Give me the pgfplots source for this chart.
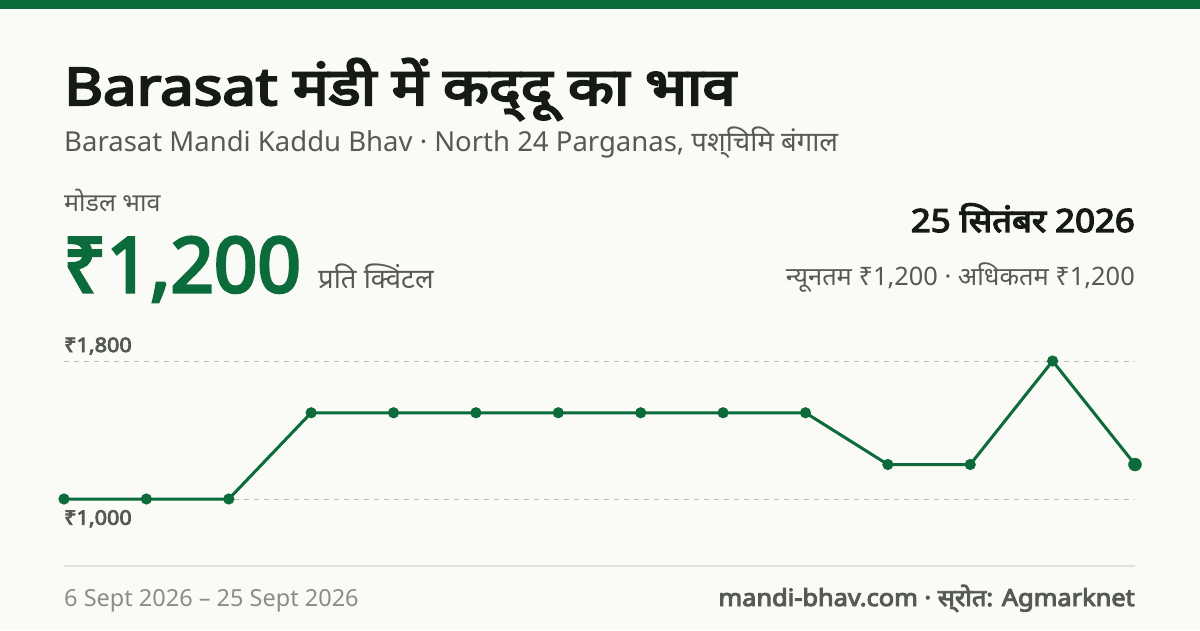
\documentclass[border=0pt]{standalone}
\usepackage{pgfplots}
\pgfplotsset{compat=1.18}
\usepackage{fontspec}
\setmainfont{Noto Sans}[Script=Devanagari, AutoFakeBold=4]
\definecolor{bg}{HTML}{FAFAF6}
\definecolor{brand}{HTML}{0B6B3A}
\definecolor{ink}{HTML}{161A16}
\definecolor{sub}{HTML}{555A55}
\definecolor{muted}{HTML}{8A8D88}
\definecolor{gridc}{HTML}{BDBDB8}
\definecolor{rule}{HTML}{E2E2DC}
\newcommand{\fs}[1]{\fontsize{#1}{#1}\selectfont}

\begin{document}
\begin{tikzpicture}[x=1pt,y=1pt]
% page background and top bar
\fill[bg] (0,0) rectangle (1200,630);
\fill[brand] (0,621) rectangle (1200,630);

% header texts
\node[anchor=base west,inner sep=0,text=ink] at (64,525) {\scalebox{1.15}[1]{\fs{52}\bfseries Barasat मंडी में कद्‌दू का भाव}};
\node[anchor=base west,inner sep=0,text=sub] at (64,478) {\fs{27.5}Barasat Mandi Kaddu Bhav · North 24 Parganas, पश्‌चिमि बंगाल};
\node[anchor=base west,inner sep=0,text=sub] at (64,418) {\fs{25}मोडल भाव};
\node[anchor=base west,inner sep=0,text=brand] at (63,338) {\fs{76}\bfseries ₹1,200};
\node[anchor=base west,inner sep=0,text=sub] at (318,341) {\fs{27.5}प्रति क्विंटल};
\node[anchor=base east,inner sep=0,text=ink] at (1135,398) {\scalebox{1.087}[1]{\fs{32}\bfseries 25 सितंबर 2026}};
\node[anchor=base east,inner sep=0,text=sub] at (1135,344) {\fs{25.4}न्यूनतम ₹1,200 · अधिकतम ₹1,200};

\begin{axis}[
  at={(64pt,131pt)}, anchor=south west,
  scale only axis, width=1071pt, height=138pt,
  xmin=0, xmax=13, ymin=1000, ymax=1800,
  clip=false,
  axis line style={draw=none},
  xtick=\empty, ytick={1000,1800}, yticklabels={},
  major tick length=0pt,
  ymajorgrids, grid style={gridc, dash pattern=on 5pt off 5pt, line width=1pt},
]
\addplot[brand, line width=3pt, mark=*, mark size=4pt, mark options={solid, fill=brand, draw=brand}]
coordinates {
  (0,1000) (1,1000) (2,1000) (3,1500) (4,1500) (5,1500) (6,1500)
  (7,1500) (8,1500) (9,1500) (10,1200) (11,1200) (12,1800) (13,1200)
};
\addplot[only marks, mark=*, mark size=6.5pt, mark options={fill=brand, draw=brand}]
coordinates {(13,1200)};
\node[anchor=base west,inner sep=0,text=sub] at (axis cs:0,1800) [yshift=9pt] {\scalebox{1.08}[1]{\fs{20}\bfseries ₹1,800}};
\node[anchor=north west,inner sep=0,text=sub] at (axis cs:0,1000) [yshift=-11pt] {\scalebox{1.08}[1]{\fs{20}\bfseries ₹1,000}};
\end{axis}

% footer
\draw[rule, line width=1.5pt] (64,64) -- (1135,64);
\node[anchor=base west,inner sep=0,text=muted] at (64,24) {\fs{23.5}6 Sept 2026 – 25 Sept 2026};
\node[anchor=base east,inner sep=0,text=sub] at (1135,24) {\scalebox{1.07}[1]{\fs{23.7}\bfseries mandi-bhav.com · स्‌रोत: Agmarknet}};
\end{tikzpicture}
\end{document}
